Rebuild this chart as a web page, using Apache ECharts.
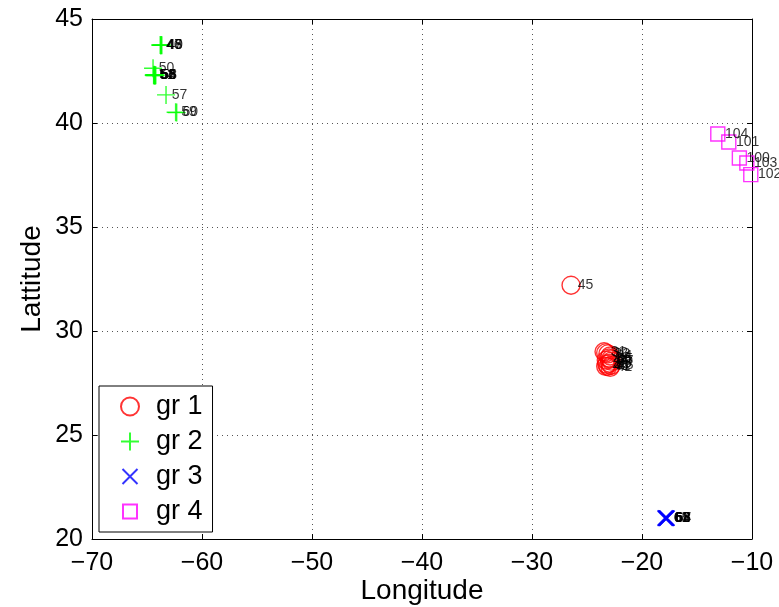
<!DOCTYPE html>
<html><head><meta charset="utf-8">
<script src="https://cdn.jsdelivr.net/npm/echarts@6/dist/echarts.min.js"></script>
<style>html,body{margin:0;padding:0;background:#fff}#c{width:779px;height:607px}</style>
</head><body><div id="c"></div>
<script>
// Data: [longitude, latitude, label]
const xTicks = [-70, -60, -50, -40, -30, -20, -10];
const yTicks = [20, 25, 30, 35, 40, 45];
const groupNames = ['gr 1', 'gr 2', 'gr 3', 'gr 4'];
const gr1 = [
  [-23.45, 29.0, '31'], [-23.3, 28.95, '32'], [-23.1, 28.9, '33'], [-22.9, 28.8, '34'],
  [-22.85, 28.65, '35'], [-23.0, 28.7, '36'], [-22.8, 28.55, '37'], [-22.95, 28.45, '38'],
  [-23.2, 28.4, '39'], [-23.3, 28.3, '40'], [-23.1, 28.3, '41'], [-22.9, 28.25, '42'],
  [-22.8, 28.35, '43'], [-23.25, 28.6, '44'], [-26.45, 32.2, '45']
];
const gr2 = [
  [-63.8, 43.75, '46'], [-63.75, 43.73, '47'], [-63.7, 43.75, '48'], [-63.65, 43.74, '49'],
  [-64.45, 42.63, '50'], [-64.4, 42.3, '51'], [-64.35, 42.28, '52'], [-64.3, 42.3, '53'],
  [-64.35, 42.32, '54'], [-64.25, 42.28, '55'], [-64.3, 42.3, '56'], [-63.27, 41.35, '57'],
  [-64.2, 42.3, '58'], [-62.4, 40.52, '59'], [-62.3, 40.5, '60']
];
const gr3 = [
  [-17.9, 21.02, '61'], [-17.85, 21.0, '62'], [-17.8, 21.01, '63'], [-17.75, 20.99, '64'],
  [-17.9, 20.99, '65'], [-17.8, 21.0, '66'], [-17.72, 21.01, '67'], [-17.76, 21.0, '68']
];
const gr4 = [
  [-13.11, 39.47, '104'], [-12.11, 39.09, '101'], [-11.15, 38.32, '100'],
  [-10.47, 38.08, '103'], [-10.11, 37.52, '102']
];

const FONT = 'Liberation Sans, Arial, Helvetica, sans-serif';
const minus = v => String(v).replace('-', '\u2212');
const PLUS = 'path://M0,5L10,5M5,0L5,10';
const CROSS = 'path://M-1,-1M11,11M0,0L10,10M10,0L0,10';
const SQUARE = 'path://M-1.43,-1.43M11.43,11.43M0,0L10,0L10,10L0,10Z';

function mkSeries(name, data, symbol, size, color, dist) {
  return {
    type: 'scatter', name: name, data: data,
    symbol: symbol, symbolSize: size,
    itemStyle: { color: 'rgba(0,0,0,0)', borderColor: color, borderWidth: 1.4 },
    emphasis: { disabled: true },
    label: {
      show: true, position: 'right', distance: dist,
      formatter: p => p.data[2], color: '#000', fontSize: 14, fontFamily: FONT
    },
    labelLayout: { hideOverlap: false }
  };
}

const chart = echarts.init(document.getElementById('c'), null, { renderer: 'canvas' });
const axisCommon = {
  axisLine: { show: true, lineStyle: { color: '#000', width: 1 } },
  axisTick: { show: true, inside: true, length: 5, lineStyle: { color: '#000' } }
};
chart.setOption({
  animation: false,
  backgroundColor: '#fff',
  grid: { left: 92, right: 27, top: 19, bottom: 68, containLabel: false, outerBoundsMode: 'none' },
  xAxis: [
    Object.assign({
      type: 'value', min: xTicks[0], max: xTicks[xTicks.length - 1], interval: 10,
      position: 'bottom',
      name: 'Longitude', nameLocation: 'middle', nameGap: 38, nameMoveOverlap: false,
      nameTextStyle: { fontSize: 28, fontFamily: FONT, color: '#000' },
      axisLabel: { formatter: minus, fontSize: 25, fontFamily: FONT, color: '#000', margin: 12 },
      splitLine: { show: true, lineStyle: { color: '#555', type: [1, 4], width: 1 } }
    }, axisCommon),
    Object.assign({
      type: 'value', min: xTicks[0], max: xTicks[xTicks.length - 1], interval: 10,
      position: 'top', axisLabel: { show: false }, splitLine: { show: false }
    }, axisCommon)
  ],
  yAxis: [
    Object.assign({
      type: 'value', min: yTicks[0], max: yTicks[yTicks.length - 1], interval: 5,
      position: 'left',
      name: 'Lattitude', nameLocation: 'middle', nameGap: 46, nameMoveOverlap: false,
      nameTextStyle: { fontSize: 28, fontFamily: FONT, color: '#000' },
      axisLabel: { fontSize: 25, fontFamily: FONT, color: '#000', margin: 9 },
      splitLine: { show: true, lineStyle: { color: '#555', type: [1, 4], width: 1 } }
    }, axisCommon),
    Object.assign({
      type: 'value', min: yTicks[0], max: yTicks[yTicks.length - 1], interval: 5,
      position: 'right', axisLabel: { show: false }, splitLine: { show: false }
    }, axisCommon)
  ],
  legend: {
    orient: 'vertical', left: 99, top: 386,
    backgroundColor: '#fff', borderColor: '#000', borderWidth: 1, borderRadius: 0,
    padding: [7, 10, 7, 21], itemGap: 8, itemWidth: 18, itemHeight: 18,
    selectedMode: false,
    textStyle: { fontSize: 27, fontFamily: FONT, color: '#000', padding: [0, 0, 0, 12] },
    data: groupNames
  },
  series: [
    mkSeries(groupNames[0], gr1, 'circle', 18, '#ff0000', -3),
    mkSeries(groupNames[1], gr2, PLUS, 18, '#00ff00', -4),
    mkSeries(groupNames[2], gr3, CROSS, 18, '#0000ff', -1),
    mkSeries(groupNames[3], gr4, SQUARE, 18, '#ff00ff', -2.5)
  ]
});
</script>
</body></html>
